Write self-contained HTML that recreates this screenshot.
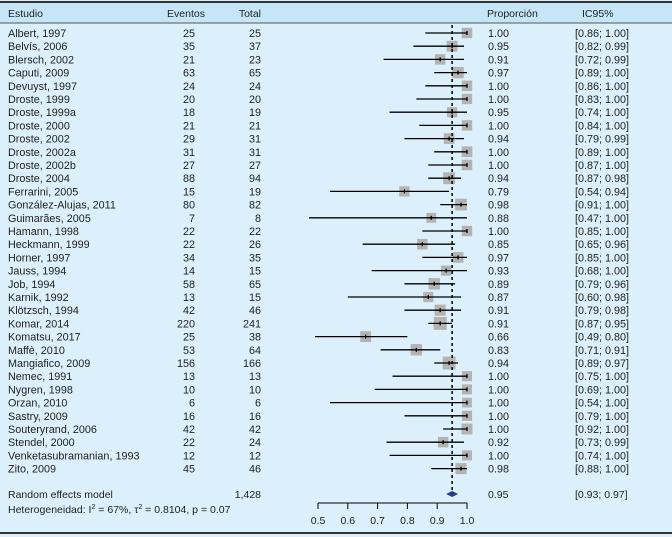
<!DOCTYPE html>
<html><head><meta charset="utf-8"><style>
body{margin:0;width:672px;height:537px;overflow:hidden;background:#fff;font-family:"Liberation Sans",sans-serif;}
svg{display:block}
</style></head><body>
<svg id="c" width="672" height="537" font-family="Liberation Sans, sans-serif" font-size="10.5">
<rect x="0" y="0" width="672" height="537" fill="#dcf0fb"/>
<rect x="0" y="3" width="672" height="20" fill="#c4e6f6"/>
<line x1="0" y1="2" x2="672" y2="2" stroke="#333" stroke-width="2"/>
<line x1="0" y1="23" x2="672" y2="23" stroke="#555" stroke-width="1"/>
<line x1="0" y1="533" x2="672" y2="533" stroke="#333" stroke-width="2"/>
<text x="8" y="17" fill="#222">Estudio</text>
<text x="205" y="17" text-anchor="end" fill="#222">Eventos</text>
<text x="261" y="17" text-anchor="end" fill="#222">Total</text>
<text x="487" y="17" fill="#222">Proporción</text>
<text x="582" y="17" fill="#222">IC95%</text>
<g id="rows"></g>
<text x="8" y="498" fill="#222">Random effects model</text>
<text x="261" y="498" text-anchor="end" fill="#222">1,428</text>
<text x="8" y="513" fill="#222">Heterogeneidad: I<tspan font-size="7" dy="-4">2</tspan><tspan dy="4"> = 67%, τ</tspan><tspan font-size="7" dy="-4">2</tspan><tspan dy="4"> = 0.8104, p = 0.07</tspan></text>
<g id="axis"></g>
</svg>
<script>
const names=["Albert, 1997","Belvís, 2006","Blersch, 2002","Caputi, 2009","Devuyst, 1997","Droste, 1999","Droste, 1999a","Droste, 2000","Droste, 2002","Droste, 2002a","Droste, 2002b","Droste, 2004","Ferrarini, 2005","González-Alujas, 2011","Guimarães, 2005","Hamann, 1998","Heckmann, 1999","Horner, 1997","Jauss, 1994","Job, 1994","Karnik, 1992","Klötzsch, 1994","Komar, 2014","Komatsu, 2017","Maffè, 2010","Mangiafico, 2009","Nemec, 1991","Nygren, 1998","Orzan, 2010","Sastry, 2009","Souteryrand, 2006","Stendel, 2000","Venketasubramanian, 1993","Zito, 2009"];
const events=[25,35,21,63,24,20,18,21,29,31,27,88,15,80,7,22,22,34,14,58,13,42,220,25,53,156,13,10,6,16,42,22,12,45];
const totals=[25,37,23,65,24,20,19,21,31,31,27,94,19,82,8,22,26,35,15,65,15,46,241,38,64,166,13,10,6,16,42,24,12,46];
const props=[1.00,0.95,0.91,0.97,1.00,1.00,0.95,1.00,0.94,1.00,1.00,0.94,0.79,0.98,0.88,1.00,0.85,0.97,0.93,0.89,0.87,0.91,0.91,0.66,0.83,0.94,1.00,1.00,1.00,1.00,1.00,0.92,1.00,0.98];
const lows=[0.86,0.82,0.72,0.89,0.86,0.83,0.74,0.84,0.79,0.89,0.87,0.87,0.54,0.91,0.47,0.85,0.65,0.85,0.68,0.79,0.60,0.79,0.87,0.49,0.71,0.89,0.75,0.69,0.54,0.79,0.92,0.73,0.74,0.88];
const highs=[1.00,0.99,0.99,1.00,1.00,1.00,1.00,1.00,0.99,1.00,1.00,0.98,0.94,1.00,1.00,1.00,0.96,1.00,1.00,0.96,0.98,0.98,0.95,0.80,0.91,0.97,1.00,1.00,1.00,1.00,1.00,0.99,1.00,1.00];
const pooled=[0.95,0.93,0.97];
const ticks=[0.5,0.6,0.7,0.8,0.9,1.0];
const NS="http://www.w3.org/2000/svg";
const xs=v=>318+(v-0.5)*298;
const ys=i=>37+i*13.2;
function mk(t,a,p){const e=document.createElementNS(NS,t);for(const k in a)e.setAttribute(k,a[k]);if(p)p.appendChild(e);return e;}
const rows=document.getElementById('rows');
const f=v=>v.toFixed(2);
for(let i=0;i<names.length;i++){
 const y=ys(i);
 const g=mk('g',{'font-size':'10.8'},rows);
 
 
 const t1=mk('text',{x:8,y:y,fill:'#222'},g);t1.textContent=names[i];
 
 
 const t2=mk('text',{x:195,y:y,'text-anchor':'end',fill:'#222'},g);t2.textContent=events[i];
 
 
 const t3=mk('text',{x:261,y:y,'text-anchor':'end',fill:'#222'},g);t3.textContent=totals[i];
 
 
 const t4=mk('text',{x:488,y:y,fill:'#222'},g);t4.textContent=f(props[i]);
 
 
 const t5=mk('text',{x:575,y:y,fill:'#222'},g);t5.textContent='['+f(lows[i])+'; '+f(highs[i])+']';
 
 
 const cy=y-4;
 const s=Math.min(13,9+Math.sqrt(totals[i])*0.3);
 const sq=mk('rect',{x:xs(props[i])-s/2,y:cy-s/2,width:s,height:s,fill:'#b3b3b3'},g);
 
 
 const ln=mk('line',{x1:xs(lows[i]),x2:xs(highs[i]),y1:cy,y2:cy,stroke:'#000','stroke-width':1.3},g);
 
 
 const pt=mk('line',{x1:xs(props[i]),x2:xs(props[i]),y1:cy-2,y2:cy+2,stroke:'#000','stroke-width':1.3},g);
 
 
}
const ax=document.getElementById('axis');
const ref=mk('line',{x1:xs(pooled[0]),x2:xs(pooled[0]),y1:25,y2:490,stroke:'#000','stroke-width':1.5,'stroke-dasharray':'3,3'},ax);


const py=494;
const dia=mk('polygon',{points:`${xs(pooled[1])},${py} ${xs(pooled[0])},${py-3} ${xs(pooled[2])},${py} ${xs(pooled[0])},${py+3}`,fill:'#2a3a8c'},ax);


const pt1=mk('text',{x:488,y:498,fill:'#222'},ax);pt1.textContent=f(pooled[0]);


const pt2=mk('text',{x:575,y:498,fill:'#222'},ax);pt2.textContent='['+f(pooled[1])+'; '+f(pooled[2])+']';


const al=mk('line',{x1:xs(ticks[0]),x2:xs(ticks[ticks.length-1]),y1:503,y2:503,stroke:'#000'},ax);


for(const t of ticks){
 const tk=mk('line',{x1:xs(t),x2:xs(t),y1:503,y2:509,stroke:'#000'},ax);
 
 
 const tl=mk('text',{x:xs(t),y:524,'text-anchor':'middle',fill:'#222'},ax);tl.textContent=t.toFixed(1);
 
 
}
</script>
</body></html>
